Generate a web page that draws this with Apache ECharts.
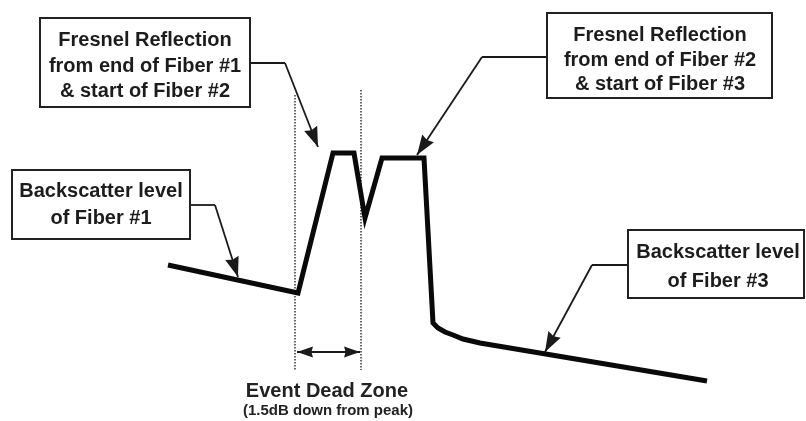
<!DOCTYPE html>
<html><head><meta charset="utf-8">
<script src="https://cdn.jsdelivr.net/npm/echarts@6/dist/echarts.min.js"></script>
<style>html,body{margin:0;padding:0;background:#fff}#c{width:806px;height:421px}</style>
</head><body><div id="c"></div>
<script>
// OTDR trace (distance units, level units)
const traceDistance = [168, 298, 333, 354, 365, 382, 424, 433, 438, 445, 453, 463, 480, 707];
const traceLevel    = [156, 128, 268, 268, 203, 263, 263, 98, 93, 89, 86, 82, 78, 40];

// Event dead zone boundaries (distance)
const deadZoneStart = 295;
const deadZoneEnd = 361;

// Callout leaders: start, elbow point, arrow tip [distance, level]
const leaderStarts = [[250, 358], [547, 364], [190, 216], [628, 156]];
const leaderElbows = [[285, 358], [482, 364], [215, 216], [592, 156]];
const leaderTips   = [[318, 274], [417, 266], [238, 144], [545, 69]];

// Callout texts
const calloutTexts = [
  ['Fresnel Reflection', 'from end of Fiber #1', '& start of Fiber #2'],
  ['Fresnel Reflection', 'from end of Fiber #2', '& start of Fiber #3'],
  ['Backscatter level', 'of Fiber #1'],
  ['Backscatter level', 'of Fiber #3']
];
const deadZoneTitle = 'Event Dead Zone';
const deadZoneSub = '(1.5dB down from peak)';

// Layout (pixel boxes) for callouts
const boxLayout = [
  {x: 40, y: 18, w: 210, h: 89, cx: 145, ys: [40, 66, 91]},
  {x: 547, y: 13, w: 225, h: 85, cx: 660, ys: [35, 60, 84]},
  {x: 12, y: 170, w: 178, h: 69, cx: 101, ys: [191, 218]},
  {x: 628, y: 230, w: 176, h: 68, cx: 718, ys: [252, 281]}
];

const chart = echarts.init(document.getElementById('c'));
const FONT = '"Liberation Sans", Arial, Helvetica, sans-serif';
// arrow head (14 wide, 20 long) with its tip at the centre of a 40x40 symbol box
const ARROW = 'path://M0,0 L0,0 M40,40 L40,40 M20,20 L27,40 L20,38 L13,40 Z';
const graphics = [];
boxLayout.forEach((b, i) => {
  graphics.push({type: 'rect', shape: {x: b.x, y: b.y, width: b.w, height: b.h},
    style: {fill: '#fff', stroke: '#222', lineWidth: 2}, z: 10});
  calloutTexts[i].forEach((t, j) => {
    graphics.push({type: 'text', z: 11, style: {text: t, x: b.cx, y: b.ys[j],
      font: 'bold 20px ' + FONT, fill: '#1c1c1c', align: 'center', verticalAlign: 'middle'}});
  });
});
graphics.push({type: 'text', z: 11, style: {text: deadZoneTitle, x: 327, y: 391,
  font: 'bold 20px ' + FONT, fill: '#222', align: 'center', verticalAlign: 'middle'}});
graphics.push({type: 'text', z: 11, style: {text: deadZoneSub, x: 328, y: 411,
  font: 'bold 15px ' + FONT, fill: '#222', align: 'center', verticalAlign: 'middle'}});

const tracePts = traceDistance.map((d, i) => [d, traceLevel[i]]);

chart.setOption({
  animation: false,
  backgroundColor: '#fff',
  grid: {left: 0, right: 0, top: 0, bottom: 0},
  xAxis: {type: 'value', min: 0, max: 806, show: false},
  yAxis: {type: 'value', min: 0, max: 421, show: false},
  graphic: graphics,
  series: [
    {type: 'line', data: tracePts, showSymbol: false, symbol: 'none',
      lineStyle: {color: '#0a0a0a', width: 5, join: 'miter', cap: 'butt'}, z: 5},
    {type: 'lines', coordinateSystem: 'cartesian2d', z: 3,
      lineStyle: {color: '#333', width: 1.5, type: [1.5, 1.5], opacity: 1},
      data: [
        {coords: [[deadZoneStart, 326], [deadZoneStart, 51]]},
        {coords: [[deadZoneEnd, 331], [deadZoneEnd, 51]]}
      ]},
    {type: 'lines', coordinateSystem: 'cartesian2d', z: 4,
      lineStyle: {color: '#1a1a1a', width: 1.8, opacity: 1},
      data: leaderStarts.map((s, i) => ({coords: [s, leaderElbows[i]]}))},
    {type: 'lines', coordinateSystem: 'cartesian2d', z: 4,
      symbol: ['none', ARROW], symbolSize: 40,
      lineStyle: {color: '#1a1a1a', width: 1.8, opacity: 1},
      data: leaderElbows.map((s, i) => ({coords: [s, leaderTips[i]]}))},
    {type: 'lines', coordinateSystem: 'cartesian2d', z: 4,
      symbol: [ARROW, ARROW], symbolSize: 32,
      lineStyle: {color: '#1a1a1a', width: 1.8, opacity: 1},
      data: [{coords: [[deadZoneStart + 2, 69], [deadZoneEnd - 1, 69]]}]}
  ]
});
</script></body></html>
